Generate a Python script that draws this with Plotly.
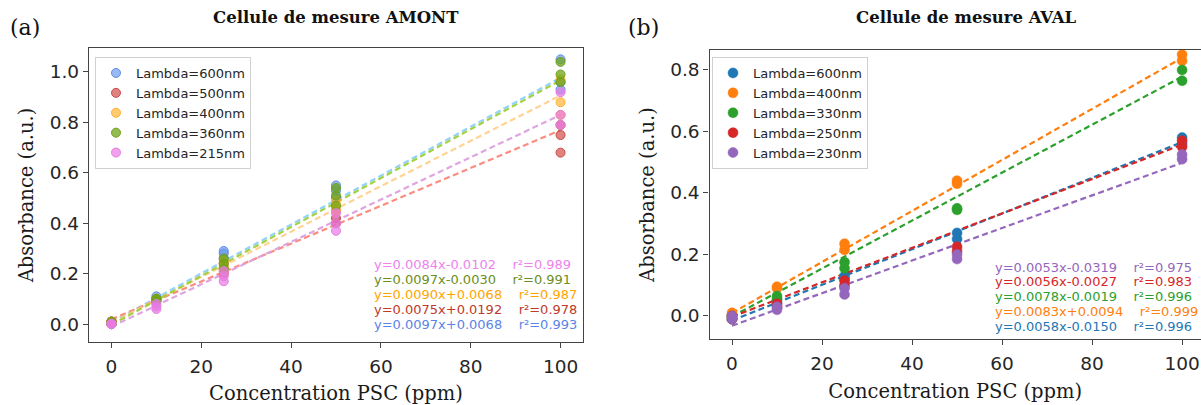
import plotly.graph_objects as go

# ---------------- data ----------------
conc = [0, 0, 0, 10, 10, 10, 25, 25, 25, 50, 50, 50, 100, 100, 100]
conc_b = [0, 0, 10, 10, 25, 25, 50, 50, 100, 100]

# Panel (a) - Cellule de mesure AMONT
labels_a = ["Lambda=600nm", "Lambda=500nm", "Lambda=400nm", "Lambda=360nm", "Lambda=215nm"]
abs_a_600 = [0.00, 0.01, 0.01, 0.10, 0.10, 0.11, 0.26, 0.28, 0.29, 0.50, 0.53, 0.55, 0.93, 0.96, 1.05]
abs_a_500 = [0.00, 0.01, 0.01, 0.09, 0.10, 0.10, 0.20, 0.22, 0.24, 0.40, 0.42, 0.45, 0.68, 0.75, 0.79]
abs_a_400 = [0.00, 0.00, 0.01, 0.09, 0.10, 0.10, 0.21, 0.23, 0.25, 0.45, 0.47, 0.49, 0.83, 0.88, 0.97]
abs_a_360 = [0.00, 0.00, 0.01, 0.09, 0.10, 0.10, 0.22, 0.24, 0.26, 0.47, 0.51, 0.54, 0.96, 0.99, 1.04]
abs_a_215 = [0.00, 0.00, 0.00, 0.06, 0.07, 0.08, 0.17, 0.19, 0.21, 0.37, 0.40, 0.44, 0.79, 0.83, 0.92]
slope_a = [0.0097, 0.0075, 0.0090, 0.0097, 0.0084]
inter_a = [0.0068, 0.0192, 0.0068, -0.0030, -0.0102]
r2_a = ["0.993", "0.978", "0.987", "0.991", "0.989"]

# Panel (b) - Cellule de mesure AVAL
labels_b = ["Lambda=600nm", "Lambda=400nm", "Lambda=330nm", "Lambda=250nm", "Lambda=230nm"]
abs_b_600 = [0.00, -0.01, 0.04, 0.05, 0.12, 0.13, 0.25, 0.27, 0.56, 0.58]
abs_b_400 = [0.00, 0.01, 0.09, 0.095, 0.215, 0.235, 0.43, 0.44, 0.83, 0.85]
abs_b_330 = [0.00, -0.01, 0.055, 0.065, 0.155, 0.175, 0.345, 0.35, 0.765, 0.80]
abs_b_250 = [0.00, -0.01, 0.03, 0.04, 0.10, 0.115, 0.21, 0.225, 0.55, 0.57]
abs_b_230 = [-0.01, 0.00, 0.02, 0.03, 0.07, 0.09, 0.185, 0.20, 0.51, 0.525]
slope_b = [0.0058, 0.0083, 0.0078, 0.0056, 0.0053]
inter_b = [-0.0150, 0.0094, -0.0019, -0.0027, -0.0319]
r2_b = ["0.996", "0.999", "0.996", "0.983", "0.975"]

xticks = [0, 20, 40, 60, 80, 100]
yticks_a = [0.0, 0.2, 0.4, 0.6, 0.8, 1.0]
yticks_b = [0.0, 0.2, 0.4, 0.6, 0.8]

# ---------------- styles ----------------
W, H = 1201, 405
mk_a = ["rgba(100,149,237,0.65)", "rgba(205,65,60,0.65)", "rgba(255,175,40,0.65)",
        "rgba(110,165,20,0.75)", "rgba(235,120,230,0.7)"]
edge_a = ["#5f8ee6", "#c84a45", "#ffb030", "#6f9f1f", "#e27fe0"]
line_a = ["rgba(135,206,250,0.9)", "rgba(250,128,114,0.9)", "rgba(255,200,120,0.8)",
          "rgba(154,205,50,0.9)", "rgba(221,160,221,0.95)"]
txt_a = ["#5b83e8", "#c0392b", "#ffa500", "#6b8e23", "#ee82ee"]
col_b = ["#1f77b4", "#ff7f0e", "#2ca02c", "#d62728", "#9467bd"]

SERIF = "DejaVu Serif"
SANS = "DejaVu Sans"


def px_x(p):
    return p / W


def px_y(p):
    return (H - p) / H


fig = go.Figure()

ys_a = [abs_a_600, abs_a_500, abs_a_400, abs_a_360, abs_a_215]
ys_b = [abs_b_600, abs_b_400, abs_b_330, abs_b_250, abs_b_230]

for i in range(5):
    fig.add_trace(go.Scatter(
        x=[0, 100], y=[inter_a[i], slope_a[i] * 100 + inter_a[i]], mode="lines",
        line=dict(color=line_a[i], width=2.2, dash="6px,3.5px"),
        xaxis="x", yaxis="y", showlegend=False, hoverinfo="skip"))
for i in range(5):
    fig.add_trace(go.Scatter(
        x=conc, y=ys_a[i], mode="markers", name=labels_a[i],
        marker=dict(color=mk_a[i], size=9, line=dict(color=edge_a[i], width=1)),
        xaxis="x", yaxis="y", legend="legend"))

for i in range(5):
    fig.add_trace(go.Scatter(
        x=[0, 100], y=[inter_b[i], slope_b[i] * 100 + inter_b[i]], mode="lines",
        line=dict(color=col_b[i], width=2.2, dash="6px,3.5px"),
        xaxis="x2", yaxis="y2", showlegend=False, hoverinfo="skip"))
for i in range(5):
    fig.add_trace(go.Scatter(
        x=conc_b, y=ys_b[i], mode="markers", name=labels_b[i],
        marker=dict(color=col_b[i], size=10, line=dict(color=col_b[i], width=0.5)),
        xaxis="x2", yaxis="y2", legend="legend2"))

axis_common = dict(showgrid=False, zeroline=False, showline=True, linecolor="#444",
                   linewidth=1.3, ticks="outside", ticklen=5, tickcolor="#444",
                   tickfont=dict(family=SANS, size=18.5, color="#262626"))
title_font = dict(family=SERIF, size=19.5, color="#1a1a1a")

fig.update_layout(
    width=W, height=H, margin=dict(l=0, r=0, t=0, b=0),
    paper_bgcolor="white", plot_bgcolor="white",
    xaxis=dict(domain=[px_x(89), px_x(583)], range=[-5, 105], tickvals=xticks,
               mirror=True, anchor="y", ticklabelstandoff=3,
               title=dict(text="Concentration PSC (ppm)", font=title_font, standoff=11), **axis_common),
    yaxis=dict(domain=[px_y(342), px_y(48)], range=[-0.071, 1.095], tickvals=yticks_a,
               tickformat=".1f", mirror=True, anchor="x",
               title=dict(text="Absorbance (a.u.)", font=title_font, standoff=10), **axis_common),
    xaxis2=dict(domain=[px_x(709.5), 1.0], range=[-5, 104.2], tickvals=xticks,
                mirror=True, anchor="y2", ticklabelstandoff=3,
                title=dict(text="Concentration PSC (ppm)", font=title_font, standoff=11), **axis_common),
    yaxis2=dict(domain=[px_y(339), px_y(50)], range=[-0.075, 0.865], tickvals=yticks_b,
                tickformat=".1f", mirror=False, anchor="x2",
                title=dict(text="Absorbance (a.u.)", font=title_font, standoff=10), **axis_common),
    legend=dict(x=px_x(95), y=px_y(57), xanchor="left", yanchor="top",
                bgcolor="rgba(255,255,255,0.85)", bordercolor="#d0d0d0", borderwidth=1,
                font=dict(family=SANS, size=13, color="#262626"), tracegroupgap=0),
    legend2=dict(x=px_x(712), y=px_y(57), xanchor="left", yanchor="top",
                 bgcolor="rgba(255,255,255,0.85)", bordercolor="#d0d0d0", borderwidth=1,
                 font=dict(family=SANS, size=13, color="#262626"), tracegroupgap=0),
)

ann = []
# titles and panel labels
for text, xp, yp, fnt in [
    ("<b>Cellule de mesure AMONT</b>", 336, 18, dict(family=SERIF, size=16.5, color="#111")),
    ("<b>Cellule de mesure AVAL</b>", 966, 18, dict(family=SERIF, size=16.5, color="#111")),
    ("(a)", 25, 28, dict(family=SERIF, size=22, color="#111")),
    ("(b)", 644, 28, dict(family=SERIF, size=22, color="#111")),
]:
    ann.append(dict(text=text, x=px_x(xp), y=px_y(yp), xref="paper", yref="paper",
                    xanchor="center", yanchor="middle", showarrow=False, font=fnt))

gap = "\u00a0" * 4
# equations panel (a): drawn bottom (600nm) to top (215nm)
for i in range(5):
    txt = f"y={slope_a[i]:.4f}x{inter_a[i]:+.4f}{gap}r²={r2_a[i]}"
    ann.append(dict(text=txt, x=58, y=-0.002 + 0.060 * i, xref="x", yref="y", xanchor="left",
                    yanchor="middle", showarrow=False, font=dict(family=SANS, size=13, color=txt_a[i])))
for i in range(5):
    txt = f"y={slope_b[i]:.4f}x{inter_b[i]:+.4f}{gap}r²={r2_b[i]}"
    ann.append(dict(text=txt, x=58, y=-0.033 + 0.048 * i, xref="x2", yref="y2", xanchor="left",
                    yanchor="middle", showarrow=False, font=dict(family=SANS, size=13, color=col_b[i])))
fig.update_layout(annotations=ann)

fig.write_html("out.html", config={"displayModeBar": False},
               post_script="document.body.style.margin='0px';document.body.style.overflow='hidden';")
